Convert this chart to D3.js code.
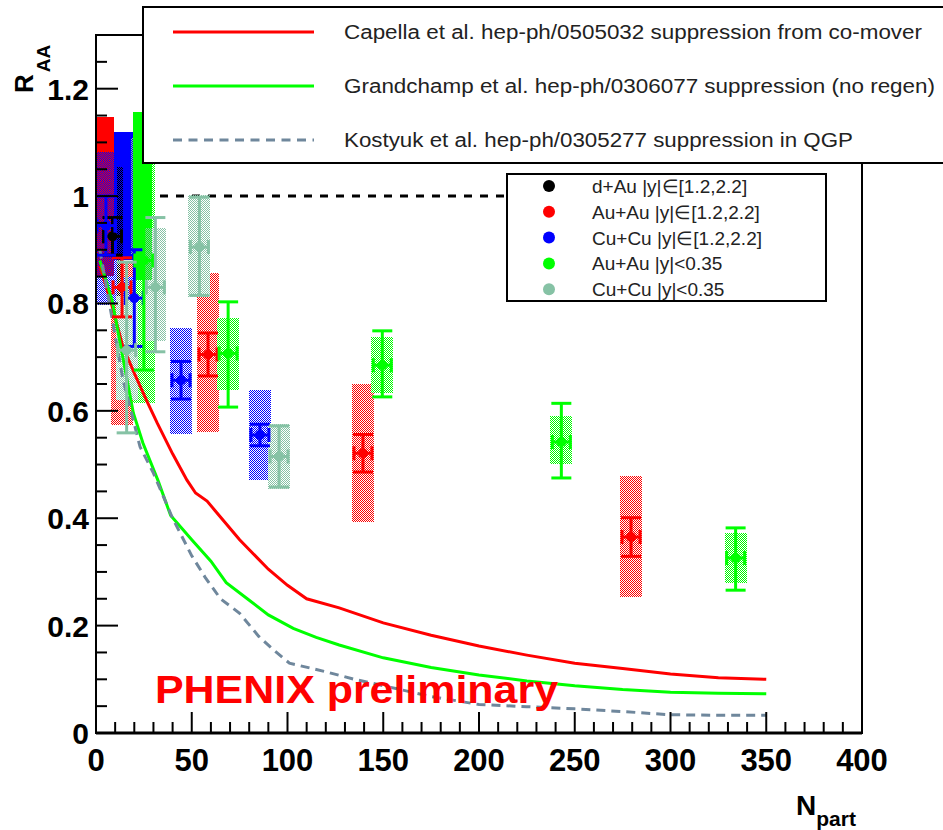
<!DOCTYPE html>
<meta charset="utf-8">
<title>J/psi RAA vs Npart</title>
<script src="https://d3js.org/d3.v7.min.js"></script>
<style>
  body { margin: 0; background: #fff; }
  text { font-family: "Liberation Sans", Arial, sans-serif; }
</style>
<div id="chart"></div>
<script>

// ---- data ----
// Au+Au |y| in [1.2,2.2]
var auauFwdN     = [13.6, 58.5, 139.4, 279.4];
var auauFwdR     = [0.83, 0.705, 0.521, 0.365];
var auauFwdStat  = [0.055, 0.04, 0.035, 0.036];
var auauFwdSysUp = [0.047, 0.152, 0.129, 0.114];
var auauFwdSysDn = [0.256, 0.145, 0.128, 0.112];

// Cu+Cu |y| in [1.2,2.2]
var cucuFwdN     = [5.2, 20, 44.4, 85.6];
var cucuFwdR     = [0.945, 0.81, 0.657, 0.555];
var cucuFwdStat  = [0.055, 0.09, 0.035, 0.02];
var cucuFwdSysUp = [0.137, 0.04, 0.097, 0.083];
var cucuFwdSysDn = [0.148, 0.04, 0.100, 0.083];

// d+Au |y| in [1.2,2.2]
var dauN     = [8.6];
var dauR     = [0.925];
var dauStat  = [0.035];
var dauSysUp = [0.13];
var dauSysDn = [0.12];

// Au+Au |y|<0.35
var auauMidN     = [25, 69, 149.5, 243, 334];
var auauMidR     = [0.88, 0.707, 0.685, 0.542, 0.326];
var auauMidStUp  = [0.2, 0.096, 0.064, 0.072, 0.056];
var auauMidStDn  = [0.204, 0.10, 0.059, 0.067, 0.06];
var auauMidSysUp = [0.24, 0.066, 0.052, 0.048, 0.046];
var auauMidSysDn = [0.265, 0.068, 0.052, 0.041, 0.047];

// Cu+Cu |y|<0.35
var cucuMidN     = [16, 31, 54, 95.6];
var cucuMidR     = [0.713, 0.83, 0.905, 0.515];
var cucuMidStUp  = [0.164, 0.13, 0.093, 0.057];
var cucuMidStDn  = [0.154, 0.12, 0.09, 0.057];
var cucuMidSysUp = [0.10, 0.11, 0.097, 0.06];
var cucuMidSysDn = [0.093, 0.10, 0.093, 0.06];

// global normalisation boxes drawn around R_AA = 1
var globalLoN = [0, 9.5, 19.5, 18.5];
var globalHiN = [9.5, 19.5, 29.5, 29.5];
var globalErr = [0.148, 0.119, 0.157, 0.108];
var globalSet = ["auauFwd", "cucuFwd", "auauMid", "cucuMid"];

// theory curves
var capellaN = [2, 8, 14, 20, 27, 32, 40, 47.5, 52, 58, 62, 75, 90, 100, 110, 127, 150, 175, 200, 225, 250, 275, 300, 325, 350];
var capellaR = [0.87, 0.80, 0.72, 0.67, 0.615, 0.577, 0.52, 0.471, 0.447, 0.432, 0.415, 0.36, 0.305, 0.275, 0.25, 0.233, 0.205, 0.182, 0.162, 0.145, 0.13, 0.12, 0.11, 0.103, 0.10];

var grandN = [2, 8.4, 14, 19.5, 24.5, 32.4, 39, 50, 60, 68, 79, 90, 103, 115, 127, 150, 175, 200, 225, 250, 275, 300, 325, 350];
var grandR = [0.88, 0.806, 0.70, 0.596, 0.54, 0.47, 0.405, 0.36, 0.32, 0.28, 0.25, 0.22, 0.195, 0.178, 0.164, 0.14, 0.122, 0.108, 0.097, 0.088, 0.081, 0.076, 0.074, 0.073];

var kostN = [2, 8, 14, 23, 30, 40, 50, 57, 65, 75, 85, 92.6, 101, 113, 120, 135, 150, 175, 200, 225, 250, 275, 300, 325, 350];
var kostR = [0.90, 0.78, 0.66, 0.533, 0.484, 0.40, 0.33, 0.29, 0.25, 0.223, 0.18, 0.155, 0.13, 0.12, 0.114, 0.10, 0.088, 0.068, 0.053, 0.049, 0.045, 0.04, 0.034, 0.033, 0.033];

var theoryNames = ["Capella et al. hep-ph/0505032 suppression from co-mover",
                   "Grandchamp et al. hep-ph/0306077 suppression (no regen)",
                   "Kostyuk et al. hep-ph/0305277 suppression in QGP"];

var xTicks = [0, 50, 100, 150, 200, 250, 300, 350, 400];
var yTicks = [0, 0.2, 0.4, 0.6, 0.8, 1, 1.2];

// ---- layout ----
var W = 943, H = 830;
var x = d3.scaleLinear().domain([0, 400]).range([96, 862]);
var y = d3.scaleLinear().domain([0, 1.3]).range([733, 35]);
var boxHalf = 5.75;   // Npart half width of systematic boxes

var colors = {
  dau: "#000000", auauFwd: "#ff0000", cucuFwd: "#0000ff",
  auauMid: "#00ff00", cucuMid: "#86c2a5"
};

var svg = d3.select("#chart").append("svg")
  .attr("width", W).attr("height", H);

// hatched fills (checker patterns like the ROOT fill style)
var defs = svg.append("defs");
Object.keys(colors).forEach(function(k) {
  var p = defs.append("pattern").attr("id", "hatch-" + k)
    .attr("width", 2).attr("height", 2).attr("patternUnits", "userSpaceOnUse");
  p.append("rect").attr("x", 0).attr("y", 0).attr("width", 1).attr("height", 1).attr("fill", colors[k]);
  p.append("rect").attr("x", 1).attr("y", 1).attr("width", 1).attr("height", 1).attr("fill", colors[k]);
});

var plot = svg.append("g");

// dashed line at R_AA = 1
plot.append("line")
  .attr("x1", x(0)).attr("x2", x(215)).attr("y1", y(1)).attr("y2", y(1))
  .style("stroke", "#000").style("stroke-width", 3).style("stroke-dasharray", "8,8");

// global boxes
globalSet.forEach(function(k, i) {
  plot.append("rect")
    .attr("x", x(globalLoN[i])).attr("width", x(globalHiN[i]) - x(globalLoN[i]))
    .attr("y", y(1 + globalErr[i])).attr("height", y(1 - globalErr[i]) - y(1 + globalErr[i]))
    .attr("fill", k == "cucuMid" ? "url(#hatch-" + k + ")" : colors[k])
    .attr("shape-rendering", "crispEdges");
});

var sets = [
  {key: "auauFwd", n: auauFwdN, r: auauFwdR, su: auauFwdStat, sd: auauFwdStat, yu: auauFwdSysUp, yd: auauFwdSysDn},
  {key: "dau",     n: dauN,     r: dauR,     su: dauStat,     sd: dauStat,     yu: dauSysUp,     yd: dauSysDn},
  {key: "cucuFwd", n: cucuFwdN, r: cucuFwdR, su: cucuFwdStat, sd: cucuFwdStat, yu: cucuFwdSysUp, yd: cucuFwdSysDn},
  {key: "auauMid", n: auauMidN, r: auauMidR, su: auauMidStUp, sd: auauMidStDn, yu: auauMidSysUp, yd: auauMidSysDn},
  {key: "cucuMid", n: cucuMidN, r: cucuMidR, su: cucuMidStUp, sd: cucuMidStDn, yu: cucuMidSysUp, yd: cucuMidSysDn}
];

// systematic boxes
sets.forEach(function(s) {
  plot.append("g").selectAll("rect")
    .data(s.n)
    .enter()
    .append("rect")
      .attr("x", function(d) { return x(d - boxHalf); })
      .attr("width", function(d) { return x(d + boxHalf) - x(d - boxHalf); })
      .attr("y", function(d, i) { return y(s.r[i] + s.yu[i]); })
      .attr("height", function(d, i) { return y(s.r[i] - s.yd[i]) - y(s.r[i] + s.yu[i]); })
      .attr("fill", "url(#hatch-" + s.key + ")")
      .attr("shape-rendering", "crispEdges");
});

// theory curves
var line = d3.line().x(function(d) { return x(d[0]); }).y(function(d) { return y(d[1]); });
plot.append("path").datum(d3.zip(capellaN, capellaR)).attr("d", line)
  .style("fill", "none").style("stroke", "#ff0000").style("stroke-width", 3);
plot.append("path").datum(d3.zip(grandN, grandR)).attr("d", line)
  .style("fill", "none").style("stroke", "#00ff00").style("stroke-width", 3);
plot.append("path").datum(d3.zip(kostN, kostR)).attr("d", line)
  .style("fill", "none").style("stroke", "#6f879c").style("stroke-width", 3)
  .style("stroke-dasharray", "9,6");

// stat error bars and markers
sets.forEach(function(s) {
  var c = colors[s.key];
  var g = plot.append("g").selectAll("g")
    .data(s.n)
    .enter()
    .append("g")
      .attr("transform", function(d, i) { return "translate(" + x(d) + "," + y(s.r[i]) + ")"; });
  g.append("line")
    .attr("x1", 0).attr("x2", 0)
    .attr("y1", function(d, i) { return y(s.r[i] + s.su[i]) - y(s.r[i]); })
    .attr("y2", function(d, i) { return y(s.r[i] - s.sd[i]) - y(s.r[i]); })
    .style("stroke", c).style("stroke-width", 3);
  [1, -1].forEach(function(sign) {
    g.append("line")
      .attr("x1", -10).attr("x2", 10)
      .attr("y1", function(d, i) { return sign > 0 ? y(s.r[i] + s.su[i]) - y(s.r[i]) : y(s.r[i] - s.sd[i]) - y(s.r[i]); })
      .attr("y2", function(d, i) { return sign > 0 ? y(s.r[i] + s.su[i]) - y(s.r[i]) : y(s.r[i] - s.sd[i]) - y(s.r[i]); })
      .style("stroke", c).style("stroke-width", 3);
    g.append("line")
      .attr("x1", 9 * sign).attr("x2", 9 * sign).attr("y1", -7).attr("y2", 7)
      .style("stroke", c).style("stroke-width", 3);
  });
  g.append("line").attr("x1", -9).attr("x2", 9).attr("y1", 0).attr("y2", 0)
    .style("stroke", c).style("stroke-width", 3);
  g.append("circle").attr("r", 5).style("fill", c);
});

// ---- frame and axes ----
svg.append("rect")
  .attr("x", x(0)).attr("y", y(1.3)).attr("width", x(400) - x(0)).attr("height", y(0) - y(1.3))
  .style("fill", "none").style("stroke", "#000").style("stroke-width", 2);

var ax = svg.append("g").style("stroke", "#000").style("stroke-width", 2);
d3.range(0, 401, 10).forEach(function(v) {
  var major = v % 50 == 0;
  ax.append("line").attr("x1", x(v)).attr("x2", x(v))
    .attr("y1", y(0)).attr("y2", y(0) - (major ? 21 : 11));
});
d3.range(0, 1.301, 0.05).forEach(function(v) {
  var major = Math.abs(v / 0.2 - Math.round(v / 0.2)) < 1e-6;
  ax.append("line").attr("x1", x(0)).attr("x2", x(0) + (major ? 22 : 11))
    .attr("y1", y(v)).attr("y2", y(v));
});
svg.append("line").attr("x1", x(0)).attr("x2", x(400)).attr("y1", y(0)).attr("y2", y(0))
  .style("stroke", "#000").style("stroke-width", 3);

svg.append("g").selectAll("text")
  .data(xTicks)
  .enter()
  .append("text")
    .attr("x", function(d) { return x(d); })
    .attr("y", 771)
    .attr("text-anchor", "middle")
    .style("font-size", "31px").style("font-weight", "bold")
    .text(function(d) { return d; });

svg.append("g").selectAll("text")
  .data(yTicks)
  .enter()
  .append("text")
    .attr("x", 89)
    .attr("y", function(d) { return y(d) + 11; })
    .attr("text-anchor", "end")
    .style("font-size", "30px").style("font-weight", "bold")
    .text(function(d) { return +d.toFixed(1); });

// axis titles
var yt = svg.append("text")
  .attr("transform", "translate(33,93) rotate(-90)")
  .style("font-weight", "bold").style("font-size", "26px")
  .text("R");
yt.append("tspan").attr("dx", 2).attr("dy", 17).style("font-size", "19px").text("AA");

var xt = svg.append("text")
  .attr("x", 796).attr("y", 815)
  .style("font-weight", "bold").style("font-size", "28px")
  .text("N");
xt.append("tspan").attr("dy", 11).style("font-size", "21px").text("part");

// PHENIX label
svg.append("text")
  .attr("x", 155).attr("y", 703)
  .attr("textLength", 403).attr("lengthAdjust", "spacingAndGlyphs")
  .style("font-weight", "bold").style("font-size", "39px").style("fill", "#ff0000")
  .text("PHENIX preliminary");

// ---- legend for theory curves ----
svg.append("rect").attr("x", 143).attr("y", 7).attr("width", 820).attr("height", 156)
  .style("fill", "#fff").style("stroke", "#000").style("stroke-width", 2);
var lgStyles = [
  {c: "#ff0000", dash: null, len: 578},
  {c: "#00ff00", dash: null, len: 591},
  {c: "#6f879c", dash: "9,6.5", len: 509}
];
theoryNames.forEach(function(name, i) {
  var ly = 32 + i * 54;
  svg.append("line").attr("x1", 173).attr("x2", 314).attr("y1", ly).attr("y2", ly)
    .style("stroke", lgStyles[i].c).style("stroke-width", 3)
    .style("stroke-dasharray", lgStyles[i].dash);
  svg.append("text").attr("x", 344).attr("y", ly + 7)
    .attr("textLength", lgStyles[i].len).attr("lengthAdjust", "spacingAndGlyphs")
    .style("font-size", "20px").style("fill", "#222")
    .text(name);
});

// ---- legend for data sets ----
var dataNames = ["d+Au |y|\u2208[1.2,2.2]", "Au+Au |y|\u2208[1.2,2.2]", "Cu+Cu |y|\u2208[1.2,2.2]",
                 "Au+Au |y|<0.35", "Cu+Cu |y|<0.35"];
var dataKeys = ["dau", "auauFwd", "cucuFwd", "auauMid", "cucuMid"];
svg.append("rect").attr("x", 507).attr("y", 174).attr("width", 319).attr("height", 127)
  .style("fill", "#fff").style("stroke", "#000").style("stroke-width", 2);
dataNames.forEach(function(name, i) {
  var ly = 186 + i * 25.8;
  svg.append("circle").attr("cx", 549).attr("cy", ly).attr("r", 6).style("fill", colors[dataKeys[i]]);
  svg.append("text").attr("x", 592).attr("y", ly + 7)
    .style("font-size", "19px").style("fill", "#222")
    .text(name);
});

</script>
